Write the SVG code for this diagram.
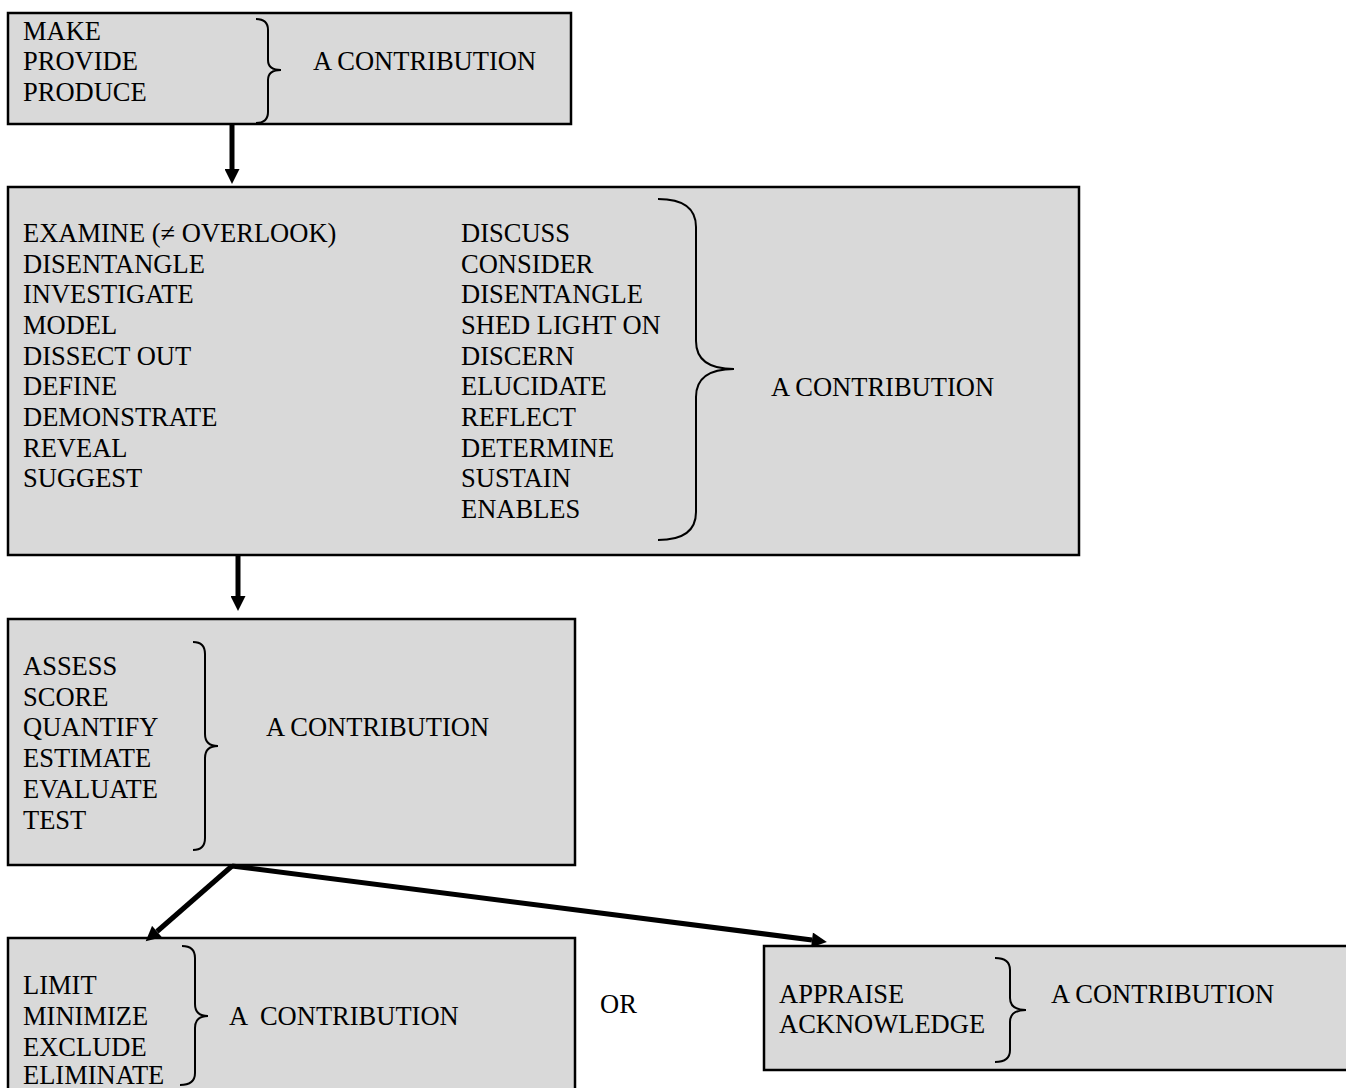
<svg xmlns="http://www.w3.org/2000/svg" width="1346" height="1088" viewBox="0 0 1346 1088">
<style>
.box{fill:#d9d9d9;stroke:#000;stroke-width:2.5}
.t{font-family:"Liberation Serif","Times New Roman",serif;font-size:26.5px;fill:#000;white-space:pre}
.br{fill:none;stroke:#000;stroke-width:2}
.ar{stroke:#000;stroke-width:5;fill:none;marker-end:url(#ah)}
</style>
<defs>
<marker id="ah" viewBox="0 0 10 10" refX="0" refY="5" markerWidth="3.2" markerHeight="3" orient="auto" markerUnits="strokeWidth">
<path d="M0,0 L10,5 L0,10 z" fill="#000"/>
</marker>
</defs>
<rect width="1346" height="1088" fill="#fff"/>
<g id="node1">
<rect class="box" x="8" y="13" width="563" height="111"/>
<text class="t" x="23" y="40">MAKE</text>
<text class="t" x="23" y="70">PROVIDE</text>
<text class="t" x="23" y="101">PRODUCE</text>
<path class="br" d="M256,19 Q268,19 268,30 L268,60 Q268,70 281,70 Q268,70 268,80 L268,112 Q268,123 256,123"/>
<text class="t" x="313" y="70">A CONTRIBUTION</text>
</g>
<g id="node2">
<rect class="box" x="8" y="187" width="1071" height="368"/>
<text class="t" x="23" y="242">EXAMINE (≠ OVERLOOK)</text>
<text class="t" x="23" y="273">DISENTANGLE</text>
<text class="t" x="23" y="303">INVESTIGATE</text>
<text class="t" x="23" y="334">MODEL</text>
<text class="t" x="23" y="365">DISSECT OUT</text>
<text class="t" x="23" y="395">DEFINE</text>
<text class="t" x="23" y="426">DEMONSTRATE</text>
<text class="t" x="23" y="457">REVEAL</text>
<text class="t" x="23" y="487">SUGGEST</text>
<text class="t" x="461" y="242">DISCUSS</text>
<text class="t" x="461" y="273">CONSIDER</text>
<text class="t" x="461" y="303">DISENTANGLE</text>
<text class="t" x="461" y="334">SHED LIGHT ON</text>
<text class="t" x="461" y="365">DISCERN</text>
<text class="t" x="461" y="395">ELUCIDATE</text>
<text class="t" x="461" y="426">REFLECT</text>
<text class="t" x="461" y="457">DETERMINE</text>
<text class="t" x="461" y="487">SUSTAIN</text>
<text class="t" x="461" y="518">ENABLES</text>
<path class="br" d="M658,199 Q696,199 696,227 L696,341 Q696,369 734,369 Q696,369 696,397 L696,512 Q696,540 658,540"/>
<text class="t" x="771" y="396">A CONTRIBUTION</text>
</g>
<g id="node3">
<rect class="box" x="8" y="619" width="567" height="246"/>
<text class="t" x="23" y="675">ASSESS</text>
<text class="t" x="23" y="706">SCORE</text>
<text class="t" x="23" y="736">QUANTIFY</text>
<text class="t" x="23" y="767">ESTIMATE</text>
<text class="t" x="23" y="798">EVALUATE</text>
<text class="t" x="23" y="829">TEST</text>
<path class="br" d="M193,642 Q205,642 205,654 L205,734 Q205,746 218,746 Q205,746 205,758 L205,838 Q205,850 193,850"/>
<text class="t" x="266" y="736">A CONTRIBUTION</text>
</g>
<g id="node4">
<rect class="box" x="8" y="938" width="567" height="165"/>
<text class="t" x="23" y="994">LIMIT</text>
<text class="t" x="23" y="1025">MINIMIZE</text>
<text class="t" x="23" y="1056">EXCLUDE</text>
<text class="t" x="23" y="1084">ELIMINATE</text>
<path class="br" d="M182,946 Q195,946 195,958 L195,1004 Q195,1016 208,1016 Q195,1016 195,1028 L195,1073 Q195,1085 180,1085"/>
<text class="t" x="229" y="1025">A  CONTRIBUTION</text>
</g>
<g id="or">
<text class="t" x="600" y="1013">OR</text>
</g>
<g id="node5">
<rect class="box" x="764" y="946" width="600" height="124"/>
<text class="t" x="779" y="1003">APPRAISE</text>
<text class="t" x="779" y="1033">ACKNOWLEDGE</text>
<path class="br" d="M995,958 Q1010,958 1010,970 L1010,998 Q1010,1010 1026,1010 Q1010,1010 1010,1022 L1010,1050 Q1010,1062 995,1062"/>
<text class="t" x="1051" y="1003">A CONTRIBUTION</text>
</g>
<g id="connectors">
<line class="ar" x1="232" y1="125" x2="232" y2="169"/>
<line class="ar" x1="238" y1="556" x2="238" y2="596"/>
<line class="ar" x1="232" y1="866" x2="157" y2="931.5"/>
<line class="ar" x1="232" y1="866" x2="812" y2="940"/>
</g>
</svg>
